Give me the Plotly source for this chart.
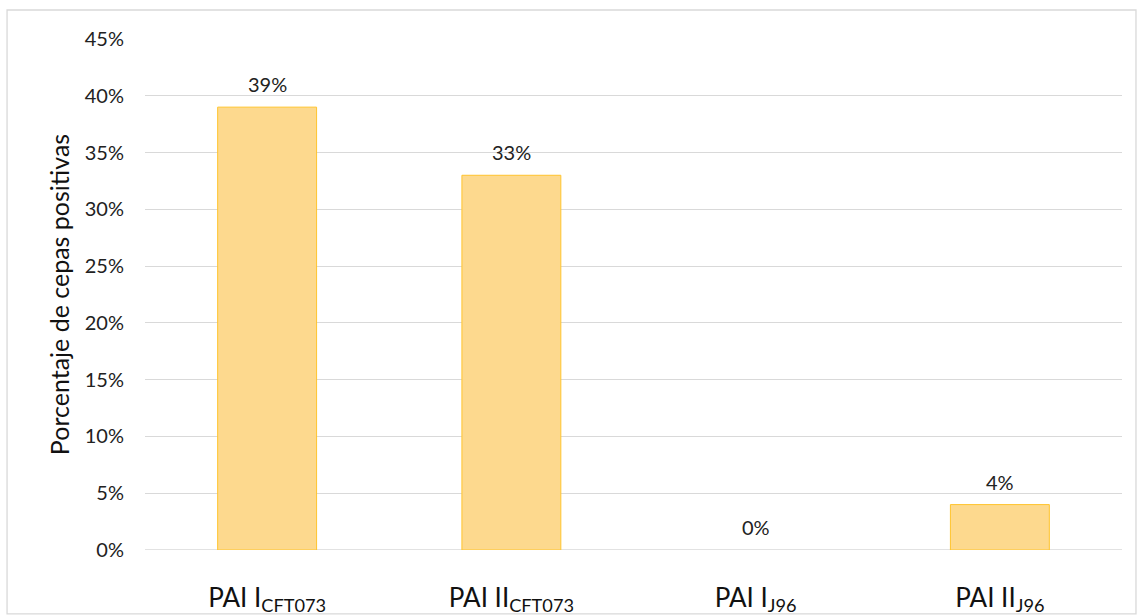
import plotly.graph_objects as go

categories = ["PAI I<sub>CFT073</sub>", "PAI II<sub>CFT073</sub>", "PAI I<sub>J96</sub>", "PAI II<sub>J96</sub>"]
values = [39, 33, 0, 4]
tick_vals = [0, 5, 10, 15, 20, 25, 30, 35, 40, 45]
tick_text = [f"{v}%" for v in tick_vals]
y_title = "Porcentaje de cepas positivas"

FONT = "Lato, Noto Sans, sans-serif"

fig = go.Figure()
fig.add_trace(go.Bar(
    x=categories,
    y=values,
    marker=dict(color="#FDD98E",
                line=dict(color="#FFC42E", width=[1 if v > 0 else 0 for v in values])),
    width=0.405,
    hoverinfo="skip",
))

annotations = [
    dict(x=c, y=v, xref="x", yref="y", text=f"{v}%", showarrow=False,
         yshift=23, yanchor="middle",
         font=dict(size=20, color="#222222", family=FONT))
    for c, v in zip(categories, values)
]

fig.update_layout(
    width=1138, height=615,
    margin=dict(l=145, r=16, t=39, b=65),
    paper_bgcolor="white", plot_bgcolor="white",
    showlegend=False,
    font=dict(family=FONT, color="#222222"),
    annotations=annotations,
    xaxis=dict(
        tickfont=dict(size=26, color="#111111"),
        showgrid=False, showline=False, zeroline=False,
        ticks="", ticklabelstandoff=30, automargin=False,
    ),
    yaxis=dict(
        range=[0, 45],
        tickvals=tick_vals, ticktext=tick_text,
        tickfont=dict(size=20, color="#222222"),
        showgrid=True, gridcolor="#D9D9D9", gridwidth=1.3,
        zeroline=False, showline=False, ticks="", ticklabelstandoff=20,
        automargin=False,
        title=dict(text=y_title, font=dict(size=25, color="#111111"), standoff=8),
    ),
    shapes=[dict(
        type="rect", xref="paper", yref="paper",
        x0=-0.1412, x1=1.0143, y0=-0.125, y1=1.0568,
        line=dict(color="#D9D9D9", width=1.3), fillcolor="rgba(0,0,0,0)", layer="below",
    ), dict(
        type="line", xref="paper", yref="y", x0=0, x1=1, y0=0, y1=0,
        line=dict(color="#D9D9D9", width=1.3), layer="below",
    )],
)

fig.write_html("out.html")
